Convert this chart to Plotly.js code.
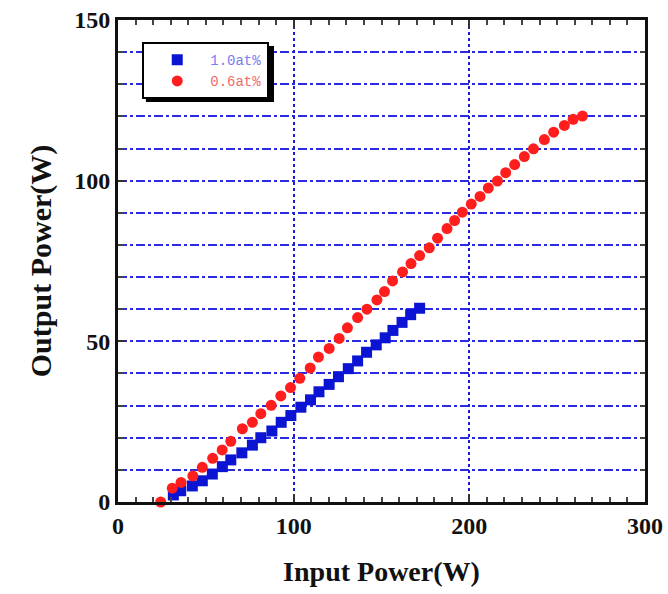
<!DOCTYPE html>
<html>
<head>
<meta charset="utf-8">
<script src="https://cdn.plot.ly/plotly-3.0.1.min.js"></script>
<style>
  html, body { margin: 0; padding: 0; background: #ffffff; }
  #chart { width: 668px; height: 594px; }
</style>
</head>
<body>
<div id="chart"></div>
<script>
// Series 0.6at% (red circles)
const inputPower06 = [24.3, 30.9, 35.9, 42.6, 48.0, 53.9, 59.3, 64.2, 70.8, 76.5, 81.3, 87.2, 92.7, 98.2, 103.5, 109.4, 114.1, 120.2, 125.9, 130.6, 136.4, 141.7, 147.4, 151.7, 156.3, 162.0, 166.8, 171.7, 177.2, 181.9, 187.3, 191.6, 196.0, 201.1, 206.1, 210.8, 216.0, 220.7, 225.8, 231.3, 236.5, 242.7, 248.0, 254.1, 259.1, 264.4];
const outputPower06 = [0.0, 4.3, 6.1, 8.1, 10.8, 13.6, 16.2, 18.9, 22.8, 24.8, 27.5, 30.1, 33.0, 35.6, 38.5, 41.7, 45.1, 47.8, 50.9, 54.2, 57.4, 60.0, 62.9, 65.5, 68.8, 71.6, 74.2, 76.7, 79.1, 82.1, 85.1, 87.6, 90.2, 92.7, 95.1, 97.7, 99.9, 102.5, 105.0, 107.5, 109.9, 112.8, 115.1, 117.2, 119.1, 120.1];

// Series 1.0at% (blue squares)
const inputPower10 = [24.9, 31.5, 35.7, 42.3, 48.0, 53.7, 59.4, 64.2, 70.5, 76.5, 81.3, 87.6, 92.9, 98.4, 104.1, 109.6, 114.4, 120.2, 125.5, 131.1, 136.4, 141.5, 147.0, 152.1, 156.5, 161.7, 166.6, 171.7];
const outputPower10 = [-0.3, 2.2, 3.5, 5.0, 6.6, 8.7, 11.0, 13.1, 15.3, 17.7, 20.0, 22.1, 24.8, 26.9, 29.5, 31.8, 34.3, 36.6, 39.0, 41.5, 43.9, 46.6, 48.9, 51.1, 53.4, 55.9, 58.3, 60.3];

const seriesNames = ["1.0at%", "0.6at%"];
const xTickVals = [0, 100, 200, 300];
const yTickVals = [0, 50, 100, 150];

const serif = "'Liberation Serif', 'DejaVu Serif', serif";

const traces = [
  {
    x: inputPower10, y: outputPower10, type: "scatter", mode: "markers",
    name: '<span style="color:#7a7af0">' + seriesNames[0] + '</span>',
    marker: { symbol: "square", size: 11, color: "#0a14d2" },
    cliponaxis: false
  },
  {
    x: inputPower06, y: outputPower06, type: "scatter", mode: "markers",
    name: '<span style="color:#f06a6a">' + seriesNames[1] + '</span>',
    marker: { symbol: "circle", size: 11, color: "#ff1e1e" },
    cliponaxis: false
  }
];

const layout = {
  width: 668, height: 594,
  margin: { l: 118, r: 23, t: 20, b: 92 },
  paper_bgcolor: "#ffffff",
  plot_bgcolor: "#ffffff",
  showlegend: true,
  legend: {
    x: 0.046, y: 0.954, xanchor: "left", yanchor: "top",
    bgcolor: "#ffffff", bordercolor: "#000000", borderwidth: 2,
    font: { family: "'Liberation Mono', monospace", size: 14, color: "#7a7af0" },
    itemwidth: 56, tracegroupgap: 0
  },
  xaxis: {
    range: [0, 300],
    tickvals: xTickVals,
    ticktext: xTickVals.map(String),
    ticks: "inside", ticklen: 8, tickwidth: 2, tickcolor: "#333333",
    tickfont: { family: serif, size: 24, color: "#111111", weight: "bold" },
    showline: true, linecolor: "#111111", linewidth: 3, mirror: "allticks",
    showgrid: true, gridcolor: "#1c1ce0", gridwidth: 2, griddash: "dot",
    zeroline: false,
    minor: { dtick: 10, ticks: "inside", ticklen: 5, tickwidth: 2, tickcolor: "#444444", showgrid: false },
    title: { text: "Input Power(W)", font: { family: serif, size: 28, color: "#111111", weight: "bold" }, standoff: 24 }
  },
  yaxis: {
    range: [0, 150],
    tickvals: yTickVals,
    ticktext: yTickVals.map(String),
    ticks: "inside", ticklen: 8, tickwidth: 2, tickcolor: "#333333",
    tickfont: { family: serif, size: 24, color: "#111111", weight: "bold" },
    showline: true, linecolor: "#111111", linewidth: 3, mirror: "allticks",
    showgrid: true, gridcolor: "#2a2ae0", gridwidth: 2, griddash: "dashdot",
    zeroline: false,
    minor: { dtick: 10, ticks: "inside", ticklen: 5, tickwidth: 2, tickcolor: "#444444", showgrid: true, gridcolor: "#2a2ae0", gridwidth: 2, griddash: "dashdot" },
    title: { text: "Output Power(W)", font: { family: serif, size: 30, color: "#111111", weight: "bold" }, standoff: 14 }
  },
  shapes: [
    { type: "rect", xref: "paper", yref: "paper", x0: 0.053, x1: 0.296, y0: 0.830, y1: 0.946, fillcolor: "#000000", line: { width: 0 }, layer: "above" }
  ]
};

Plotly.newPlot("chart", traces, layout, { displayModeBar: false, staticPlot: true });
</script>
</body>
</html>
